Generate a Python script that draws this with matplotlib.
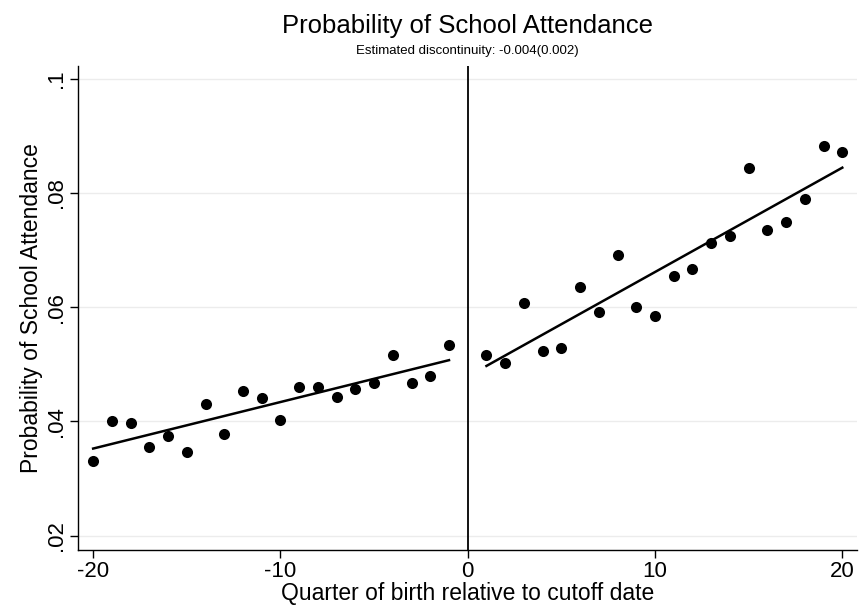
import numpy as np
import matplotlib
matplotlib.use('Agg')
import matplotlib.pyplot as plt

plt.rcParams['font.family'] = ['Liberation Sans', 'DejaVu Sans']

# quarters of birth relative to cutoff (left and right of the cutoff)
x_left = np.arange(-20, 0)
y_left = [0.0330, 0.0401, 0.0398, 0.0356, 0.0374, 0.0346, 0.0431, 0.0378, 0.0453, 0.0441,
          0.0403, 0.0460, 0.0460, 0.0443, 0.0457, 0.0468, 0.0517, 0.0468, 0.0479, 0.0533]
x_right = np.arange(1, 21)
y_right = [0.0517, 0.0503, 0.0607, 0.0524, 0.0529, 0.0636, 0.0591, 0.0691, 0.0600, 0.0585,
           0.0655, 0.0667, 0.0713, 0.0724, 0.0844, 0.0735, 0.0750, 0.0789, 0.0883, 0.0871]

x_ticks = [-20, -10, 0, 10, 20]
y_ticks = [0.02, 0.04, 0.06, 0.08, 0.1]
y_ticklabels = ['.02', '.04', '.06', '.08', '.1']

fig = plt.figure(figsize=(8.59, 6.13), dpi=100)
ax = fig.add_axes([0.091, 0.103, 0.907, 0.789])

for yt in y_ticks:
    ax.axhline(yt, color='#ececec', lw=1.0, zorder=0)

# linear fits on each side of the cutoff
for xs, ys in [(x_left, y_left), (x_right, y_right)]:
    b, a = np.polyfit(xs, ys, 1)
    ax.plot(xs, a + b * xs, color='black', lw=1.8, zorder=2)
    ax.scatter(xs, ys, s=64, color='black', zorder=3, linewidths=0)

ax.axvline(0, color='black', lw=1.3, zorder=1)

ax.set_xlim(-20.8, 20.8)
ax.set_ylim(0.0175, 0.1022)
ax.set_xticks(x_ticks)
ax.set_xticklabels([str(v) for v in x_ticks])
ax.set_yticks(y_ticks)
ax.set_yticklabels(y_ticklabels, rotation=90, va='center')

for side in ['top', 'right']:
    ax.spines[side].set_visible(False)
for side in ['left', 'bottom']:
    ax.spines[side].set_linewidth(1.0)
ax.tick_params(direction='out', length=6, width=1.0, labelsize=16, pad=2)

ax.set_xlabel('Quarter of birth relative to cutoff date', fontsize=16.5, labelpad=0)
ax.set_ylabel('Probability of School Attendance', fontsize=16.5, labelpad=2)

fig.text(0.544, 0.958, 'Probability of School Attendance', ha='center', va='center', fontsize=18.5)
fig.text(0.544, 0.916, 'Estimated discontinuity: -0.004(0.002)', ha='center', va='center', fontsize=9.5)

plt.savefig('out.png', dpi=100)
